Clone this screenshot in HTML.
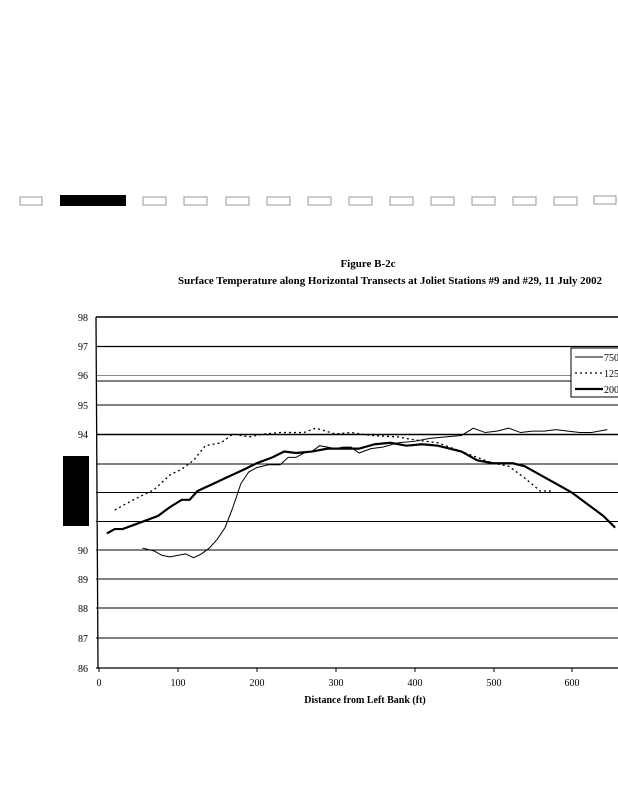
<!DOCTYPE html>
<html><head><style>
body{margin:0;width:618px;height:800px;background:#fff;overflow:hidden;font-family:"Liberation Serif",serif;}
</style></head><body>
<svg width="618" height="800" xmlns="http://www.w3.org/2000/svg" style="position:absolute;left:0;top:0">
<g fill="none" stroke="#999" stroke-width="1">
<rect x="20" y="197" width="22" height="8"/>
<rect x="143" y="197" width="23" height="8"/>
<rect x="184" y="197" width="23" height="8"/>
<rect x="226" y="197" width="23" height="8"/>
<rect x="267" y="197" width="23" height="8"/>
<rect x="308" y="197" width="23" height="8"/>
<rect x="349" y="197" width="23" height="8"/>
<rect x="390" y="197" width="23" height="8"/>
<rect x="431" y="197" width="23" height="8"/>
<rect x="472" y="197" width="23" height="8"/>
<rect x="513" y="197" width="23" height="8"/>
<rect x="554" y="197" width="23" height="8"/>
<rect x="594" y="196" width="22" height="8"/>
</g>
<rect x="60" y="195" width="66" height="11" fill="#000"/>
<text x="368" y="267" font-size="11" font-weight="bold" text-anchor="middle">Figure B-2c</text>
<text x="390" y="284" font-size="11" font-weight="bold" text-anchor="middle" textLength="424" lengthAdjust="spacingAndGlyphs">Surface Temperature along Horizontal Transects at Joliet Stations #9 and #29, 11 July 2002</text>
<g stroke="#000" stroke-width="1">
<line x1="96" y1="317" x2="618" y2="317" stroke-width="1.5"/>
<line x1="96" y1="346.5" x2="618" y2="346.5" stroke-width="1.3"/>
<line x1="96" y1="375.5" x2="618" y2="375.5" stroke="#888"/>
<line x1="96" y1="381" x2="618" y2="381"/>
<line x1="96" y1="405" x2="618" y2="405"/>
<line x1="96" y1="434.5" x2="618" y2="434.5" stroke-width="1.5"/>
<line x1="96" y1="464" x2="618" y2="464"/>
<line x1="96" y1="492.5" x2="618" y2="492.5"/>
<line x1="96" y1="521.5" x2="618" y2="521.5"/>
<line x1="96" y1="550" x2="618" y2="550"/>
<line x1="96" y1="579" x2="618" y2="579"/>
<line x1="96" y1="608" x2="618" y2="608"/>
<line x1="96" y1="638" x2="618" y2="638"/>
<line x1="96" y1="668" x2="618" y2="668" stroke-width="1.3"/>
<line x1="96" y1="317" x2="98" y2="668" stroke-width="1.3"/>
<line x1="99" y1="668" x2="99" y2="672"/><line x1="178" y1="668" x2="178" y2="672"/><line x1="257" y1="668" x2="257" y2="672"/><line x1="336" y1="668" x2="336" y2="672"/><line x1="415" y1="668" x2="415" y2="672"/><line x1="494" y1="668" x2="494" y2="672"/><line x1="572" y1="668" x2="572" y2="672"/>
</g>
<g font-size="10" text-anchor="end">
<text x="88" y="321">98</text><text x="88" y="350">97</text><text x="88" y="379">96</text><text x="88" y="409">95</text><text x="88" y="438">94</text>
<text x="88" y="554">90</text><text x="88" y="583">89</text><text x="88" y="612">88</text><text x="88" y="642">87</text><text x="88" y="672">86</text>
</g>
<g font-size="10" text-anchor="middle">
<text x="99" y="686">0</text><text x="178" y="686">100</text><text x="257" y="686">200</text><text x="336" y="686">300</text><text x="415" y="686">400</text><text x="494" y="686">500</text><text x="572" y="686">600</text>
</g>
<text x="365" y="703" font-size="10" font-weight="bold" text-anchor="middle">Distance from Left Bank (ft)</text>
<rect x="63" y="456" width="26" height="70" fill="#000"/>
<g transform="translate(99,3183.5) scale(0.788,-29.25)" fill="none" stroke="#000">
<polyline vector-effect="non-scaling-stroke" stroke-width="1" points="55,90.1 70,90 80,89.85 90,89.8 100,89.85 110,89.9 120,89.77 130,89.9 140,90.1 150,90.4 160,90.8 170,91.5 180,92.3 190,92.7 200,92.85 215,92.95 230,92.95 240,93.2 250,93.2 260,93.35 270,93.4 280,93.6 290,93.55 300,93.5 310,93.55 320,93.55 330,93.35 345,93.5 360,93.55 380,93.7 400,93.75 420,93.85 440,93.9 460,93.95 475,94.2 490,94.05 505,94.1 520,94.2 535,94.05 550,94.1 565,94.1 580,94.15 595,94.1 610,94.05 625,94.05 645,94.15"/>
<polyline vector-effect="non-scaling-stroke" stroke-width="1.3" stroke-dasharray="2,3" points="20,91.4 40,91.7 55,91.9 70,92.1 90,92.6 105,92.8 120,93.1 135,93.6 155,93.7 170,94 190,93.9 210,94 230,94.05 260,94.05 275,94.2 300,94 320,94.05 345,93.95 380,93.9 400,93.8 430,93.7 450,93.5 480,93.2 500,93 520,92.9 540,92.5 560,92.05 575,92.05"/>
<polyline vector-effect="non-scaling-stroke" stroke-width="2.2" points="10,90.6 20,90.75 30,90.75 45,90.9 60,91.05 75,91.2 90,91.5 105,91.75 115,91.75 125,92.05 145,92.3 165,92.55 185,92.8 200,93 220,93.2 235,93.4 250,93.35 270,93.4 290,93.5 310,93.5 330,93.5 350,93.65 370,93.7 390,93.6 410,93.65 430,93.6 460,93.4 480,93.1 500,93 525,93 540,92.9 560,92.6 580,92.3 600,92 620,91.6 640,91.2 655,90.8"/>
</g>
<rect x="571" y="348" width="50" height="49" fill="#fff" stroke="#000" stroke-width="1"/>
<line x1="575" y1="357" x2="603" y2="357" stroke="#000" stroke-width="1"/>
<line x1="575" y1="373" x2="603" y2="373" stroke="#000" stroke-width="1.3" stroke-dasharray="2,3"/>
<line x1="575" y1="389" x2="603" y2="389" stroke="#000" stroke-width="2.2"/>
<g font-size="10"><text x="604" y="361">750</text><text x="604" y="377">125</text><text x="604" y="393">200</text></g>
</svg>
</body></html>
